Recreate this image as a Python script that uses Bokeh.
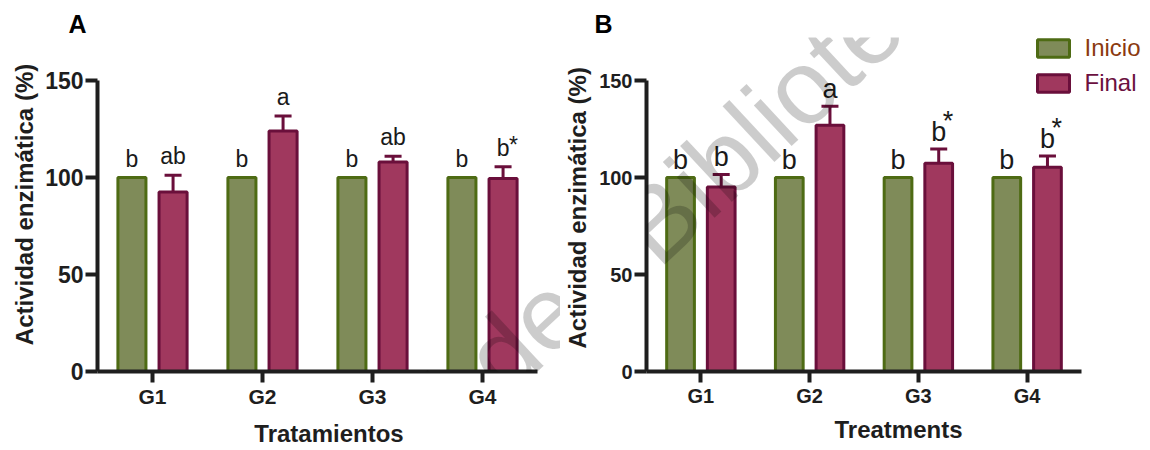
from bokeh.plotting import figure
from bokeh.layouts import row
from bokeh.models import (ColumnDataSource, Range1d, FixedTicker, Whisker,
                          TeeHead, Label, Legend, LegendItem)
from bokeh.core.properties import value
from bokeh.embed import file_html
from bokeh.resources import INLINE

# ---- data -------------------------------------------------------------
groups = ["G1", "G2", "G3", "G4"]
y_ticks = [0, 50, 100, 150]

# Panel A (Tratamientos)
inicio_a = [100, 100, 100, 100]
final_a = [92.5, 124.0, 108.0, 99.5]
final_err_a = [8.7, 7.7, 3.0, 6.0]
letters_inicio_a = ["b", "b", "b", "b"]
letters_final_a = ["ab", "a", "ab", "b"]
stars_final_a = ["", "", "", "*"]

# Panel B (Treatments)
inicio_b = [100, 100, 100, 100]
final_b = [95.1, 126.9, 107.3, 105.3]
final_err_b = [6.5, 9.8, 7.4, 5.8]
letters_inicio_b = ["b", "b", "b", "b"]
letters_final_b = ["b", "a", "b", "b"]
stars_final_b = ["", "", "*", "*"]

# ---- style ------------------------------------------------------------
FONT = "Liberation Sans"
GREEN_FILL, GREEN_LINE = "#7f8b59", "#4e6b14"
RED_FILL, RED_LINE = "#a0385e", "#6a0f3b"
AXIS = "#1e1e1e"
OFF, W = 0.187, 0.255          # dodge and bar width, in category units
TOP, BOTTOM = 37, 79           # space above / below the plotting frame
AXIS_PX = 291                  # pixel length of the 0-150 axis
FRAME_BOTTOM = 450 - BOTTOM
MID_TO_BASE = 0.3465           # distance from text middle to baseline, in em


def panel(tag, tag_offset, inicio, final, err, let_i, let_f, stars,
          xlabel, ylabel, width, left, cat_px,
          ytick_size, xtick_size, letter_size, gap, star_dx, star_dy,
          ylabel_standoff, xtick_standoff, xlabel_standoff):
    frame_w = width - left
    frame_h = 450 - TOP - BOTTOM
    px_per_unit = AXIS_PX / 150.0
    p = figure(width=width, height=450,
               x_range=Range1d(0, frame_w / cat_px),
               y_range=Range1d(0, frame_h / px_per_unit),
               output_backend="svg", toolbar_location=None,
               min_border_left=left, min_border_right=0,
               min_border_top=TOP, min_border_bottom=BOTTOM)
    p.outline_line_color = None
    p.xgrid.visible = False
    p.ygrid.visible = False

    centers = [i + 0.5 for i in range(len(groups))]
    upper = [f + e for f, e in zip(final, err)]
    # letters sit `gap` px above the bar / error cap (anchored at text middle)
    lift = (gap + MID_TO_BASE * letter_size) / px_per_unit
    src = ColumnDataSource(dict(
        xi=[c - OFF for c in centers], xf=[c + OFF for c in centers],
        inicio=inicio, final=final, upper=upper,
        yi=[v + lift for v in inicio], yf=[u + lift for u in upper],
        ys=[u + lift + star_dy / px_per_unit for u in upper],
        li=let_i, lf=let_f, st=stars))

    p.add_layout(Whisker(base="xf", lower="final", upper="upper", source=src,
                         line_color=RED_LINE, line_width=3,
                         upper_head=TeeHead(size=17, line_color=RED_LINE,
                                            line_width=3),
                         lower_head=None))

    r_i = p.vbar(x="xi", top="inicio", width=W, source=src,
                 fill_color=GREEN_FILL, line_color=GREEN_LINE, line_width=3)
    r_f = p.vbar(x="xf", top="final", width=W, source=src,
                 fill_color=RED_FILL, line_color=RED_LINE, line_width=3)

    txt = dict(source=src, text_align="center", text_baseline="middle",
               text_font=value(FONT), text_font_size=f"{letter_size}px",
               text_color="#1a1a1a")
    p.text(x="xi", y="yi", text="li", **txt)
    p.text(x="xf", y="yf", text="lf", **txt)
    star = dict(txt, text_align="left")
    p.text(x="xf", y="ys", text="st", x_offset=star_dx, **star)

    for ax in (p.xaxis[0], p.yaxis[0]):
        ax.axis_line_width = 4
        ax.axis_line_color = AXIS
        ax.major_tick_line_width = 4
        ax.major_tick_line_color = AXIS
        ax.minor_tick_line_color = None
        ax.major_tick_in = 0
        ax.major_label_text_font = FONT
        ax.major_label_text_font_style = "bold"
        ax.major_label_text_color = AXIS
        ax.axis_label_text_font = FONT
        ax.axis_label_text_font_style = "bold"
        ax.axis_label_text_font_size = "24px"
        ax.axis_label_text_color = AXIS
    p.yaxis.major_tick_out = 12
    p.xaxis.major_tick_out = 11
    p.xaxis.bounds = (0, len(groups))
    p.yaxis.bounds = (y_ticks[0], y_ticks[-1])
    p.xaxis.ticker = FixedTicker(ticks=centers)
    p.xaxis.major_label_overrides = {c: g for c, g in zip(centers, groups)}
    p.yaxis.ticker = FixedTicker(ticks=y_ticks)
    p.yaxis.major_label_text_font_size = f"{ytick_size}px"
    p.xaxis.major_label_text_font_size = f"{xtick_size}px"
    p.yaxis.major_label_standoff = 2
    p.xaxis.major_label_standoff = xtick_standoff
    p.yaxis.axis_label = ylabel
    p.xaxis.axis_label = xlabel
    p.yaxis.axis_label_standoff = ylabel_standoff
    p.xaxis.axis_label_standoff = xlabel_standoff

    p.title.text = tag
    p.title.align = "left"
    p.title.offset = tag_offset
    p.title.standoff = 0
    p.title.text_font = FONT
    p.title.text_font_style = "bold"
    p.title.text_font_size = "25px"
    p.title.text_color = "black"
    return p, r_i, r_f


pa, _, _ = panel("A", -29, inicio_a, final_a, final_err_a, letters_inicio_a,
                 letters_final_a, stars_final_a, "Tratamientos",
                 "Actividad enzimática (%)", 560, 97, 110,
                 23, 21, 23, 11, 6, 2.5, 4, 2, 9)
pb, rb_i, rb_f = panel("B", -52, inicio_b, final_b, final_err_b,
                       letters_inicio_b, letters_final_b, stars_final_b,
                       "Treatments", "Actividad enzimática  (%)", 590, 86,
                       108.75, 20, 20, 27, 8, 4, 11, 5, 2, 6)

# legend entries, one per series so each label keeps its own colour
for item, renderer, colour, vy in (("Inicio", rb_i, "#8b3a10", 309.2),
                                   ("Final", rb_f, "#6b1040", 274.2)):
    leg = Legend(items=[LegendItem(label=item, renderers=[renderer])],
                 location=(386.5, vy), padding=0, margin=0,
                 glyph_width=40, glyph_height=22, label_height=22,
                 label_standoff=12, label_text_font=FONT,
                 label_text_font_size="24px", label_text_color=colour,
                 border_line_color=None, background_fill_alpha=0)
    pb.add_layout(leg)

# library watermark running diagonally across both panels
WATERMARK = (("General de", "right", 566, 294),
             ("Bibliotecas", "left", 633, 243))
for p, fx in ((pa, 97), (pb, 646)):
    for text, align, px, py in WATERMARK:
        p.add_layout(Label(x=px - fx, y=FRAME_BOTTOM - py, x_units="screen",
                           y_units="screen", text=text, angle=43,
                           angle_units="deg", text_font=FONT,
                           text_font_size="105px", text_color="black",
                           text_alpha=0.2, text_align=align,
                           text_baseline="alphabetic"))

layout = row(pa, pb)
open("out.html", "w").write(file_html(layout, INLINE))
